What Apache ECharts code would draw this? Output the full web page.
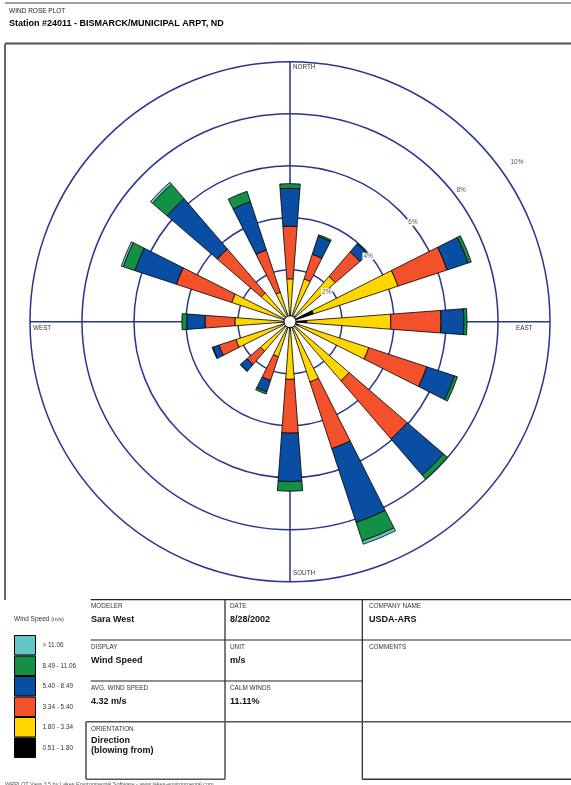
<!DOCTYPE html>
<html>
<head>
<meta charset="utf-8">
<title>Wind Rose Plot</title>
<script src="https://cdn.jsdelivr.net/npm/echarts@6.0.0/dist/echarts.min.js"></script>
<style>
  html, body { margin: 0; padding: 0; background: #fff; }
  #chart { width: 571px; height: 785px; }
</style>
</head>
<body>
<div id="chart"></div>
<script>
// directions (blowing from), clockwise from north
const directions = ['N', 'NNE', 'NE', 'ENE', 'E', 'ESE', 'SE', 'SSE',
  'S', 'SSW', 'SW', 'WSW', 'W', 'WNW', 'NW', 'NNW'];

// speed classes (m/s), lowest first
const speedClasses = ['0.51 - 1.80', '1.80 - 3.34', '3.34 - 5.40', '5.40 - 8.49', '8.49 - 11.06', '> 11.06'];

// frequency (%) per direction for each speed class
const freq051_180  = [0.20, 0.20, 0.30, 0.95, 0.65, 0.35, 0.20, 0.20, 0.20, 0.15, 0.15, 0.20, 0.20, 0.20, 0.20, 0.20];
const freq180_334  = [1.45, 1.53, 2.00, 3.42, 3.23, 2.84, 2.80, 2.24, 2.02, 1.27, 1.35, 1.99, 1.92, 2.16, 1.26, 0.99];
const freq334_540  = [2.03, 1.00, 1.25, 1.99, 1.93, 2.35, 2.95, 2.70, 2.07, 0.96, 0.68, 0.69, 1.15, 2.24, 2.23, 1.71];
const freq540_849  = [1.45, 0.73, 0.40, 0.85, 0.88, 1.12, 1.84, 2.99, 1.86, 0.46, 0.32, 0.24, 0.70, 1.68, 2.55, 1.96];
const freq849_1106 = [0.18, 0.06, 0.04, 0.13, 0.12, 0.12, 0.20, 0.75, 0.37, 0.09, 0.03, 0.03, 0.19, 0.47, 0.74, 0.42];
const freqOver1106 = [0, 0, 0, 0, 0, 0, 0, 0.13, 0, 0, 0, 0, 0, 0.08, 0.10, 0];

const ringTicks = [2, 4, 6, 8, 10];
const calmWinds = 11.11;

// header / info box texts
const plotTitle = 'WIND ROSE PLOT';
const stationName = 'Station #24011 - BISMARCK/MUNICIPAL ARPT, ND';
const infoCells = [
  ['MODELER', 'Sara West'],
  ['DISPLAY', 'Wind Speed'],
  ['AVG. WIND SPEED', '4.32 m/s'],
  ['ORIENTATION', 'Direction\n(blowing from)'],
  ['DATE', '8/28/2002'],
  ['UNIT', 'm/s'],
  ['CALM WINDS', calmWinds.toFixed(2) + '%'],
  ['COMPANY NAME', 'USDA-ARS'],
  ['COMMENTS', '']
];

// ---- styling / layout ----
const FONT = 'Liberation Sans, Arial, Helvetica, sans-serif';
const classColors = ['#000000', '#ffd600', '#f2512b', '#0a4ea3', '#138f46', '#62c6c6'];
const NAVY = '#27368f';
const CX = 290, CY = 321.7, R = 260;

const allFreq = [freq051_180, freq180_334, freq334_540, freq540_849, freq849_1106, freqOver1106];

const chart = echarts.init(document.getElementById('chart'), null, { renderer: 'canvas' });

const barSeries = speedClasses.map((name, i) => ({
  name: name,
  type: 'bar',
  coordinateSystem: 'polar',
  polarIndex: 1,
  stack: 'rose',
  barWidth: '38%',
  silent: true,
  data: allFreq[i].map(v => (v > 0 ? v : null)),
  itemStyle: { color: classColors[i], borderColor: '#000', borderWidth: 0.8 },
  z: 3
}));

const option = {
  backgroundColor: '#fff',
  animation: false,
  textStyle: { fontFamily: FONT },
  polar: [
    { center: [CX, CY], radius: R },
    { center: [CX, CY], radius: R }
  ],
  angleAxis: [
    {
      polarIndex: 0, type: 'value', min: 0, max: 360, interval: 90,
      startAngle: 90, clockwise: true,
      axisLine: { show: false }, axisTick: { show: false }, axisLabel: { show: false },
      splitLine: { show: true, lineStyle: { color: NAVY, width: 1.5 } }
    },
    {
      polarIndex: 1, type: 'category', data: directions,
      startAngle: 90 + 360 / directions.length / 2, clockwise: true,
      axisLine: { show: false }, axisTick: { show: false }, axisLabel: { show: false },
      splitLine: { show: false }
    }
  ],
  radiusAxis: [
    {
      polarIndex: 0, type: 'value', min: 0, max: 10, interval: 2,
      axisLine: { show: false }, axisTick: { show: false }, axisLabel: { show: false },
      splitLine: { show: true, lineStyle: { color: NAVY, width: 1.5 } }
    },
    {
      polarIndex: 1, type: 'value', min: 0, max: 10,
      axisLine: { show: false }, axisTick: { show: false }, axisLabel: { show: false },
      splitLine: { show: false }
    }
  ],
  legend: {
    data: speedClasses.slice().reverse(),
    orient: 'vertical',
    left: 14, top: 635, padding: 0,
    itemWidth: 21, itemHeight: 19.5, itemGap: 0,
    icon: 'rect',
    selectedMode: false,
    itemStyle: { borderColor: '#000', borderWidth: 1 },
    textStyle: { fontFamily: FONT, fontSize: 6.4, color: '#333', padding: [0, 0, 0, 2] }
  },
  series: barSeries.concat([{
    type: 'pie',
    center: [CX, CY],
    radius: [0, 6],
    silent: true,
    label: { show: false },
    labelLine: { show: false },
    itemStyle: { color: '#fff', borderColor: '#000', borderWidth: 1 },
    data: [{ value: calmWinds, name: 'Calm' }],
    z: 6
  }])
};

chart.setOption(option);

// ---- decoration: header, compass labels, ring labels, info table ----
const g = [];
function line(x1, y1, x2, y2, color, w) {
  g.push({ type: 'line', shape: { x1, y1, x2, y2 }, style: { stroke: color || '#222', lineWidth: w || 1.2 }, z: 10 });
}
function text(x, y, t, size, opts) {
  opts = opts || {};
  g.push({
    type: 'text', x, y, z: 10,
    style: {
      text: t, fill: opts.color || '#222',
      font: (opts.bold ? 'bold ' : '') + size + 'px ' + FONT,
      textAlign: opts.align || 'left', textVerticalAlign: opts.valign || 'middle',
      lineHeight: opts.lineHeight,
      backgroundColor: opts.bg, padding: opts.bg ? [0, 1] : 0
    }
  });
}

// header
line(5, 3, 571, 3, '#444', 1);
text(9, 11, plotTitle, 6.5);
text(9, 24, stationName, 9, { bold: true, color: '#000' });
line(5, 43.5, 571, 43.5, '#555', 2);
line(5, 44, 5, 600, '#333', 1.5);

// compass labels
text(CX + 3, CY - 254, 'NORTH', 6.3, { color: '#333' });
text(CX + 3, CY + 251.5, 'SOUTH', 6.3, { color: '#333' });
text(33, CY + 6.5, 'WEST', 6.3, { color: '#333' });
text(516, CY + 6.5, 'EAST', 6.3, { color: '#333' });

// ring labels placed through the polar scale
const ringLabelOffset = [-0.18, -0.08, 0.08, 0.31, 0.67];
const ringLabelAngle = [51, 50, 51, 52.4, 54.9];
ringTicks.forEach((v, i) => {
  const p = chart.convertToPixel({ polarIndex: 0 }, [v + ringLabelOffset[i], ringLabelAngle[i]]);
  text(p[0], p[1], v + '%', 6.5, { color: '#555', align: 'center', bg: '#fff' });
});

// legend title
g.push({
  type: 'text', x: 14, y: 619, z: 10,
  style: {
    text: '{a|Wind Speed }{b|(m/s)}', textVerticalAlign: 'middle',
    rich: {
      a: { fontFamily: FONT, fontSize: 6.5, fill: '#333' },
      b: { fontFamily: FONT, fontSize: 5.6, fill: '#333' }
    }
  }
});

// table lines
line(90.7, 599.7, 571, 599.7);
line(225, 599.7, 225, 779.3);
line(362.3, 599.7, 362.3, 779.3);
line(90.7, 640, 571, 640);
line(90.7, 681, 362.3, 681);
line(86, 721.7, 571, 721.7, '#555', 1.6);
line(86, 721.7, 86, 779.3, '#555', 1.6);
line(86, 779.3, 225, 779.3, '#555', 1.6);
line(362.3, 779.3, 571, 779.3, '#333', 1.4);

// table texts
const cellPos = [
  [91, 606.5], [91, 647], [91, 688], [91, 729],
  [230, 606.5], [230, 647], [230, 688],
  [369, 606.5], [369, 647]
];
infoCells.forEach((c, i) => {
  const [x, y] = cellPos[i];
  text(x, y, c[0], 6.4, { color: '#333' });
  if (c[1]) {
    const multi = c[1].indexOf('\n') >= 0;
    text(x, multi ? y + 6 : y + 13.5, c[1], 9, { bold: true, color: '#111', valign: multi ? 'top' : 'middle', lineHeight: 10.5 });
  }
});

// footer
text(5, 781, 'WRPLOT View 3.5 by Lakes Environmental Software - www.lakes-environmental.com', 5.5, { color: '#555', valign: 'top' });

chart.setOption({ graphic: g });
</script>
</body>
</html>
